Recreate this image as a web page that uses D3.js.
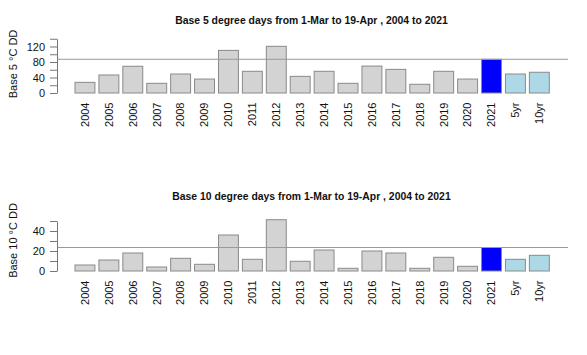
<!DOCTYPE html>
<html><head><meta charset="utf-8">
<script src="https://cdn.jsdelivr.net/npm/d3@7"></script>
<style>body{margin:0;background:#fff}svg{display:block}text{font-family:"Liberation Sans",Arial,sans-serif}</style>
</head><body><svg id="c" width="587" height="355"></svg>
<script>
const categories = ["2004","2005","2006","2007","2008","2009","2010","2011","2012","2013","2014","2015","2016","2017","2018","2019","2020","2021","5yr","10yr"];
const base5Values = [27.5,46.5,69,25,49,36,110,56,120.5,43,56,25,69.5,61,22.5,56,36,87,49,53.5];
const base10Values = [6,11,18,4,12.7,6.7,36,11.7,51.3,9.7,21,2.7,20,18,2.7,13.7,4.7,23.5,11.7,15.7];
const base5Ticks = [0,20,40,60,80,100,120,140];
const base10Ticks = [0,10,20,30,40,50];
const titles = ["Base 5 degree days from 1-Mar to 19-Apr , 2004 to 2021","Base 10 degree days from 1-Mar to 19-Apr , 2004 to 2021"];
const yTitles = ["Base 5 \u00B0C DD","Base 10 \u00B0C DD"];

function colorFor(c){ if(c==="2021") return "#0000ff"; if(c==="5yr"||c==="10yr") return "#add8e6"; return "#d3d3d3"; }

const svg = d3.select("#c");
const x = d3.scaleBand().domain(categories).range([75,549.3]).paddingInner(1/6).paddingOuter(0);
const plotL = 57, plotR = 568;

const panels = [
  {vals: base5Values, ticks: base5Ticks, labelEvery: 40, y0: 93, y1: 38.75, titleY: 24, yt: 64, xlabY: 102.5},
  {vals: base10Values, ticks: base10Ticks, labelEvery: 20, y0: 271, y1: 221, titleY: 199.5, yt: 240.5, xlabY: 280.5}
];

panels.forEach((p,i)=>{
  const y = d3.scaleLinear().domain([0, d3.max(p.ticks)]).range([p.y0, p.y1]);
  const g = svg.append("g");
  g.selectAll("rect").data(categories).join("rect")
    .attr("x", c=>x(c)).attr("width", x.bandwidth())
    .attr("y", (c,j)=>y(p.vals[j])).attr("height",(c,j)=>y(0)-y(p.vals[j]))
    .attr("fill", c=>colorFor(c)).attr("stroke","#8a8a8a").attr("stroke-width",1);
  const ref = p.vals[categories.indexOf("2021")];
  g.append("line").attr("x1",plotL).attr("x2",plotR).attr("y1",y(ref)).attr("y2",y(ref))
    .attr("stroke","#9a9a9a").attr("stroke-width",1);
  const ax = g.append("g").attr("transform",`translate(${plotL},0)`)
    .call(d3.axisLeft(y).tickValues(p.ticks).tickSize(7).tickSizeOuter(0).tickPadding(5)
      .tickFormat(d=> d % p.labelEvery === 0 ? d : ""));
  ax.select(".domain").attr("stroke","#777");
  ax.selectAll(".tick line").attr("stroke","#777");
  ax.selectAll(".tick text").attr("font-size","11px").attr("fill","#111").attr("font-family","Liberation Sans, Arial, sans-serif");
  g.selectAll("text.xl").data(categories).join("text").attr("class","xl")
    .attr("transform", c=>`translate(${x(c)+x.bandwidth()/2},${p.xlabY}) rotate(-90)`)
    .attr("text-anchor","end").attr("dy","0.35em").attr("font-size","11px").attr("fill","#111")
    .text(c=>c);
  g.append("text").attr("x",(plotL+plotR)/2 - 1).attr("y",p.titleY).attr("text-anchor","middle")
    .attr("font-size","10.4px").attr("font-weight","bold").attr("fill","#111").text(titles[i]);
  g.append("text").attr("transform",`translate(13.5,${p.yt}) rotate(-90)`).attr("text-anchor","middle")
    .attr("dy","0.35em").attr("font-size","11px").attr("fill","#111").text(yTitles[i]);
});
</script></body></html>
